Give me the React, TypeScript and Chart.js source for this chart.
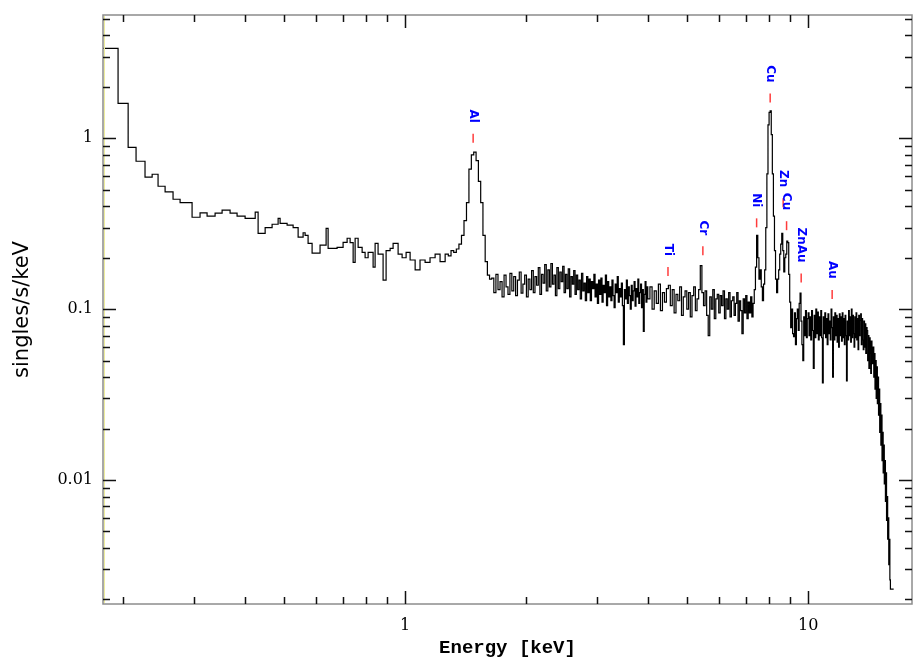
import React, { useEffect, useRef } from 'react';
import { Chart, registerables } from 'chart.js';

Chart.register(...registerables);

// ---- axis ranges ----
const X_MIN = 0.178;
const X_MAX = 18.1;
const Y_MIN = 0.00188;
const Y_MAX = 5.27;

// ---- tick labels ----
const X_LABELS = [1, 10];
const Y_LABELS = [0.01, 0.1, 1];

// ---- low-energy grouped bins (left edges in keV) ----
const LOW_EDGES = [0.178, 0.194, 0.2055, 0.215, 0.2263, 0.2357, 0.2438, 0.2538, 0.2656, 0.2765, 0.2961, 0.3099, 0.3226, 0.3377, 0.3515, 0.3679, 0.3829, 0.4009, 0.4247, 0.4318, 0.4495, 0.4677, 0.4841, 0.4896, 0.5096, 0.5274, 0.5427, 0.5584, 0.5648, 0.5745, 0.5878, 0.6151, 0.6368, 0.6441, 0.678, 0.7017, 0.718, 0.7304, 0.7431, 0.7516, 0.7646, 0.7823, 0.7957, 0.8095, 0.8329, 0.8425, 0.8569, 0.8818, 0.8971, 0.9179, 0.9337, 0.9608, 0.983, 1.0057, 1.029, 1.059, 1.089, 1.121, 1.153, 1.187, 1.221, 1.257, 1.28];
const LOW_VALUES = [3.36, 1.6, 0.886, 0.734, 0.592, 0.616, 0.524, 0.486, 0.44, 0.42, 0.345, 0.366, 0.35, 0.365, 0.38, 0.365, 0.35, 0.34, 0.37, 0.278, 0.3, 0.314, 0.34, 0.318, 0.31, 0.3, 0.264, 0.28, 0.27, 0.243, 0.213, 0.237, 0.297, 0.227, 0.23, 0.246, 0.26, 0.245, 0.188, 0.26, 0.23, 0.215, 0.2, 0.215, 0.176, 0.243, 0.21, 0.148, 0.22, 0.227, 0.243, 0.21, 0.2, 0.215, 0.194, 0.17, 0.194, 0.188, 0.2, 0.21, 0.19, 0.21, 0.205];

// ---- channels 1.30 .. 3.98 keV, 0.02 keV wide ----
const MID_START = 1.3;
const MID_STEP = 0.02;
const MID_VALUES = [
  0.22, 0.215, 0.225, 0.24, 0.27, 0.33, 0.42, 0.66, 0.8, 0.83, 0.74, 0.56, 0.42, 0.27, 0.19, 0.158, 0.15,
  0.152, 0.125, 0.16, 0.13, 0.145, 0.118, 0.158, 0.135, 0.122, 0.162,
  0.128, 0.155, 0.12, 0.148, 0.165, 0.124, 0.14, 0.158, 0.118, 0.15,
  0.13, 0.168, 0.125, 0.155, 0.138, 0.175, 0.122, 0.16, 0.142, 0.182,
  0.128, 0.17, 0.135, 0.185, 0.14, 0.158, 0.12, 0.175, 0.132, 0.165,
  0.145, 0.178, 0.125, 0.16, 0.132, 0.172, 0.118, 0.155, 0.14, 0.168,
  0.122, 0.158, 0.13, 0.148, 0.115, 0.162, 0.128, 0.142, 0.112, 0.155,
  0.125, 0.15, 0.112, 0.145, 0.132, 0.16, 0.118, 0.14, 0.108, 0.148,
  0.122, 0.152, 0.11, 0.138, 0.125, 0.158, 0.105, 0.145, 0.118, 0.135,
  0.112, 0.148, 0.12, 0.102, 0.14, 0.125, 0.155, 0.11, 0.132, 0.118,
  0.142, 0.105, 0.062, 0.13, 0.115, 0.148, 0.108, 0.135, 0.12, 0.1,
  0.138, 0.112, 0.128, 0.145, 0.104, 0.132, 0.118, 0.15, 0.108, 0.125,
  0.14, 0.102, 0.13, 0.074, 0.122, 0.145, 0.11, 0.135
];

// ---- channels 4.00 .. 16.00 keV, 0.05 keV wide ----
const HIGH_START = 4.0;
const HIGH_STEP = 0.05;
const HIGH_VALUES = [
  0.115, 0.135, 0.1, 0.128, 0.108, 0.14, 0.098, 0.125, 0.11, 0.132,
  0.138, 0.105, 0.13, 0.095, 0.122, 0.112, 0.135, 0.092, 0.118, 0.128,
  0.1, 0.125, 0.09, 0.12, 0.135, 0.098, 0.115, 0.13, 0.18, 0.125,
  0.105, 0.128, 0.092, 0.07, 0.118, 0.1, 0.13, 0.088, 0.115, 0.122,
  0.095, 0.12, 0.105, 0.128, 0.088, 0.115, 0.1, 0.125, 0.09, 0.112,
  0.118, 0.092, 0.108, 0.125, 0.085, 0.112, 0.098, 0.072, 0.115, 0.095,
  0.12, 0.088, 0.11, 0.095, 0.118, 0.09, 0.108, 0.13, 0.176, 0.27,
  0.2, 0.15, 0.17, 0.135, 0.112, 0.14, 0.17, 0.3, 0.62, 1.2,
  1.42, 1.45, 1.05, 0.62, 0.35, 0.22, 0.15, 0.125, 0.15, 0.17,
  0.21, 0.24, 0.278, 0.22, 0.165, 0.2, 0.21, 0.25, 0.245, 0.16,
  0.11, 0.078, 0.1, 0.072, 0.069, 0.095, 0.062, 0.088, 0.1, 0.075,
  0.108, 0.124, 0.085, 0.062, 0.05, 0.09, 0.07, 0.098, 0.068, 0.088,
  0.095, 0.07, 0.09, 0.066, 0.098, 0.075, 0.045, 0.092, 0.068, 0.1,
  0.072, 0.096, 0.066, 0.09, 0.07, 0.098, 0.068, 0.037, 0.09, 0.072,
  0.095, 0.068, 0.088, 0.062, 0.094, 0.072, 0.085, 0.066, 0.1, 0.078,
  0.04, 0.09, 0.066, 0.095, 0.07, 0.092, 0.064, 0.088, 0.06, 0.094,
  0.07, 0.09, 0.065, 0.095, 0.068, 0.088, 0.062, 0.092, 0.07, 0.038,
  0.085, 0.066, 0.098, 0.07, 0.09, 0.064, 0.1, 0.068, 0.092, 0.072,
  0.06, 0.09, 0.068, 0.095, 0.066, 0.088, 0.058, 0.092, 0.07, 0.086,
  0.094, 0.062, 0.088, 0.066, 0.058, 0.085, 0.06, 0.082, 0.055, 0.078,
  0.075, 0.05, 0.07, 0.045, 0.068, 0.055, 0.042, 0.065, 0.048, 0.058,
  0.06, 0.04, 0.055, 0.034, 0.05, 0.03, 0.046, 0.028, 0.04, 0.024,
  0.034, 0.019, 0.028, 0.016, 0.024, 0.013, 0.019, 0.011, 0.016, 0.0095,
  0.013, 0.0075, 0.011, 0.0058, 0.008, 0.0045, 0.006, 0.0032, 0.0045, 0.0026,
  0.0023
];
const END_EDGE = 16.3;

// ---- line identifications ----
const LINE_NAMES = ['Al', 'Ti', 'Cr', 'Ni', 'Cu', 'Zn', 'Cu', 'ZnAu', 'Au'];
const LINE_ENERGIES = [1.475, 4.49, 5.48, 7.45, 8.05, 8.67, 8.84, 9.61, 11.47];
const LINE_MARK_LEVELS = [1.0, 0.166, 0.22, 0.32, 1.72, 0.419, 0.308, 0.152, 0.122];

function buildPoints() {
  const pts: { x: number; y: number }[] = [];
  LOW_EDGES.forEach((e, i) => pts.push({ x: e, y: LOW_VALUES[i] }));
  MID_VALUES.forEach((v, i) => pts.push({ x: +(MID_START + i * MID_STEP).toFixed(3), y: v }));
  HIGH_VALUES.forEach((v, i) => pts.push({ x: +(HIGH_START + i * HIGH_STEP).toFixed(3), y: v }));
  pts.push({ x: END_EDGE, y: HIGH_VALUES[HIGH_VALUES.length - 1] });
  return pts;
}

const framePlugin = {
  id: 'frameTicks',
  afterDraw(chart: any) {
    const { ctx, chartArea } = chart;
    const { left, right, top, bottom } = chartArea;
    const xs = chart.scales.x;
    const ys = chart.scales.y;
    ctx.save();
    ctx.strokeStyle = '#ecec9c';
    ctx.lineWidth = 1;
    ctx.beginPath();
    ctx.moveTo(left + 1.5, top + 1);
    ctx.lineTo(left + 1.5, bottom - 1);
    ctx.stroke();
    ctx.strokeStyle = '#8c8c8c';
    ctx.lineWidth = 1.5;
    ctx.strokeRect(left, top, right - left, bottom - top);
    ctx.strokeStyle = '#111';
    ctx.lineWidth = 1.5;
    for (let exp = -3; exp <= 1; exp++) {
      for (let m = 1; m <= 9; m++) {
        const v = m * Math.pow(10, exp);
        const len = m === 1 ? 13 : 7;
        if (v >= X_MIN && v <= X_MAX) {
          const px = Math.round(xs.getPixelForValue(v)) + 0.5;
          ctx.beginPath();
          ctx.moveTo(px, bottom);
          ctx.lineTo(px, bottom - len);
          ctx.moveTo(px, top);
          ctx.lineTo(px, top + len);
          ctx.stroke();
        }
        if (v >= Y_MIN && v <= Y_MAX) {
          const py = Math.round(ys.getPixelForValue(v)) + 0.5;
          ctx.beginPath();
          ctx.moveTo(left, py);
          ctx.lineTo(left + len, py);
          ctx.moveTo(right, py);
          ctx.lineTo(right - len, py);
          ctx.stroke();
        }
      }
    }
    ctx.restore();
  }
};

const linesPlugin = {
  id: 'lineIds',
  afterDatasetsDraw(chart: any) {
    const { ctx } = chart;
    const xs = chart.scales.x;
    const ys = chart.scales.y;
    ctx.save();
    LINE_NAMES.forEach((name, i) => {
      const px = xs.getPixelForValue(LINE_ENERGIES[i]);
      const py = ys.getPixelForValue(LINE_MARK_LEVELS[i]);
      ctx.strokeStyle = '#ff3c3c';
      ctx.lineWidth = 1.5;
      ctx.beginPath();
      ctx.moveTo(px, py - 4.5);
      ctx.lineTo(px, py + 4.5);
      ctx.stroke();
      ctx.save();
      ctx.translate(px, py - 15.5);
      ctx.rotate(Math.PI / 2);
      ctx.fillStyle = '#0000ff';
      ctx.font = 'bold 12px "DejaVu Sans"';
      ctx.textAlign = 'right';
      ctx.textBaseline = 'middle';
      ctx.fillText(name, 0, 0);
      ctx.restore();
    });
    ctx.restore();
  }
};

const zeroPad = (s: any) => {
  s.paddingTop = 0;
  s.paddingBottom = 0;
  s.paddingLeft = 0;
  s.paddingRight = 0;
};

export default function App() {
  const ref = useRef<HTMLCanvasElement>(null);
  useEffect(() => {
    document.body.style.margin = '0';
    const canvas = ref.current;
    if (!canvas) return;
    const chart = new Chart(canvas, {
      type: 'line',
      data: {
        datasets: [
          {
            data: buildPoints(),
            borderColor: '#000',
            borderWidth: 1.2,
            pointRadius: 0,
            stepped: 'before',
            fill: false,
            tension: 0
          }
        ]
      },
      options: {
        animation: false,
        responsive: false,
        devicePixelRatio: 1,
        layout: { padding: { top: 15, right: 3, left: 0, bottom: 0 } },
        plugins: { legend: { display: false }, tooltip: { enabled: false } },
        scales: {
          x: {
            type: 'logarithmic',
            min: X_MIN,
            max: X_MAX,
            grid: { display: false, drawTicks: false },
            border: { display: false },
            afterBuildTicks: (s: any) => {
              s.ticks = X_LABELS.map((v) => ({ value: v }));
            },
            afterFit: (s: any) => {
              s.height = 57;
              zeroPad(s);
            },
            ticks: {
              autoSkip: false,
              maxRotation: 0,
              padding: 12,
              color: '#000',
              font: { family: '"DejaVu Serif"', size: 16 },
              callback: (v: any) => String(v)
            },
            title: {
              display: true,
              text: 'Energy [keV]',
              color: '#000',
              font: { family: '"Liberation Mono"', size: 19, weight: 'bold' },
              padding: { top: 0, bottom: 1 }
            }
          },
          y: {
            type: 'logarithmic',
            min: Y_MIN,
            max: Y_MAX,
            grid: { display: false, drawTicks: false },
            border: { display: false },
            afterBuildTicks: (s: any) => {
              s.ticks = Y_LABELS.map((v) => ({ value: v }));
            },
            afterFit: (s: any) => {
              s.width = 103;
              zeroPad(s);
            },
            ticks: {
              autoSkip: false,
              padding: 10,
              color: '#000',
              font: { family: '"DejaVu Serif"', size: 16 },
              callback: (v: any) => String(v)
            },
            title: {
              display: true,
              text: 'singles/s/keV',
              color: '#000',
              font: { family: '"DejaVu Sans"', size: 21 },
              padding: { top: 10, bottom: 0 }
            }
          }
        }
      },
      plugins: [linesPlugin, framePlugin]
    });
    return () => chart.destroy();
  }, []);
  return (
    <div style={{ position: 'fixed', left: 0, top: 0, width: 915, height: 661, background: '#fff' }}>
      <canvas ref={ref} width={915} height={661} style={{ display: 'block' }} />
    </div>
  );
}
